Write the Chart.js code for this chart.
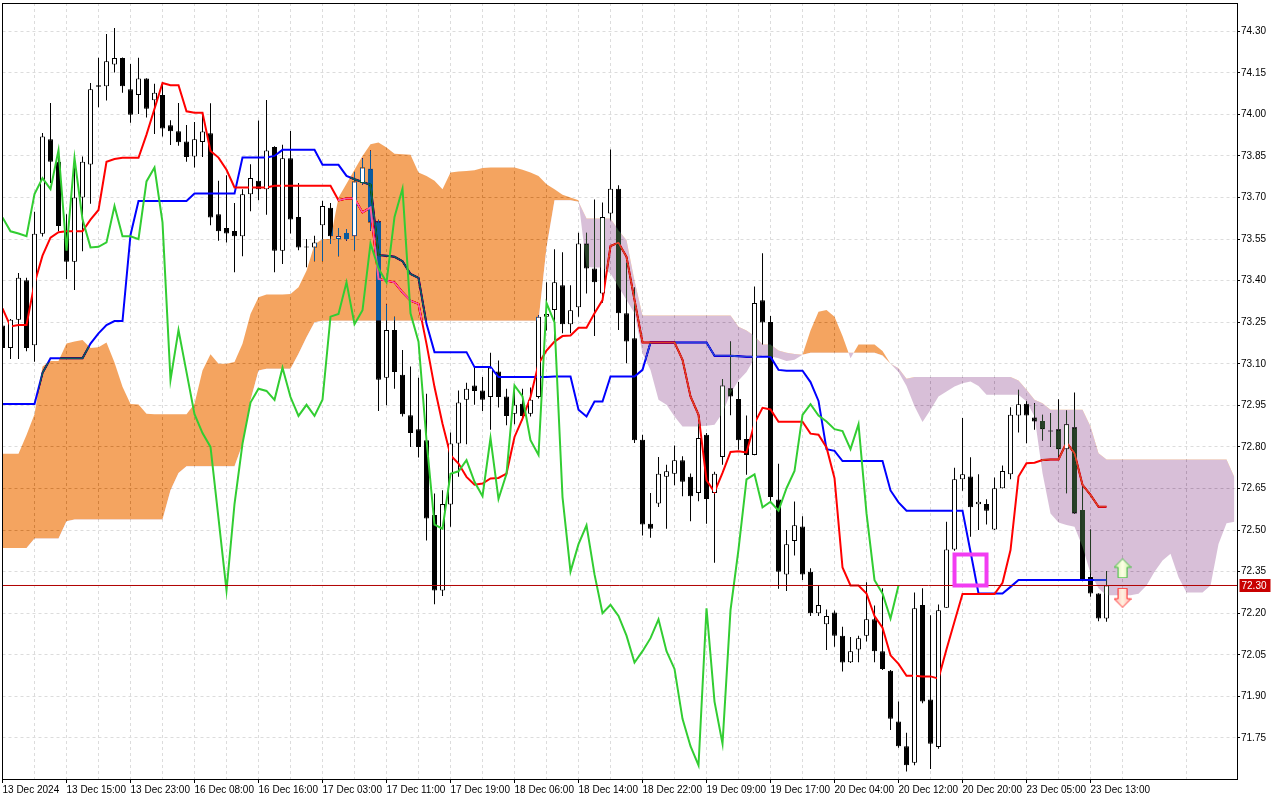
<!DOCTYPE html>
<html>
<head>
<meta charset="utf-8">
<script src="https://cdn.jsdelivr.net/npm/chart.js@4.4.1/dist/chart.umd.min.js"></script>
<style>
  html, body { margin: 0; padding: 0; background: #fff; }
  canvas { display: block; }
</style>
</head>
<body>
<canvas id="chart_ichimoku" width="1280" height="800"></canvas>
<script>
// hourly bars, 13 Dec 2024 .. 23 Dec 2024
const dateLabels = ["13 Dec 2024", "13 Dec 15:00", "13 Dec 23:00", "16 Dec 08:00", "16 Dec 16:00",
    "17 Dec 03:00", "17 Dec 11:00", "17 Dec 19:00", "18 Dec 06:00", "18 Dec 14:00", "18 Dec 22:00",
    "19 Dec 09:00", "19 Dec 17:00", "20 Dec 04:00", "20 Dec 12:00", "20 Dec 20:00", "23 Dec 05:00",
    "23 Dec 13:00"];
const priceTicks = [71.75, 71.90, 72.05, 72.20, 72.35, 72.50, 72.65, 72.80, 72.95, 73.10,
    73.25, 73.40, 73.55, 73.70, 73.85, 74.00, 74.15, 74.30];

const opens = [73.238,73.157,73.259,73.401,73.167,73.569,73.910,73.829,73.578,73.468,
    73.700,73.819,74.100,74.101,74.180,74.203,74.091,74.070,74.129,74.051,
    74.070,73.961,73.939,73.902,73.848,73.900,73.932,73.640,73.590,73.579,
    73.560,73.712,73.760,73.730,73.882,73.508,73.842,73.630,73.520,73.520,
    73.600,73.663,73.550,73.572,73.560,73.752,73.804,73.614,73.050,73.222,
    73.060,72.914,72.864,72.824,72.554,72.282,72.592,72.812,72.970,73.022,
    73.004,72.980,73.072,72.982,72.920,72.956,72.920,72.980,73.270,73.294,
    73.383,73.243,73.304,73.534,73.444,73.354,73.642,73.732,73.282,73.192,
    72.826,72.523,72.596,72.692,72.703,72.752,72.692,72.634,72.844,72.634,
    72.764,73.012,72.973,72.829,72.771,73.329,73.251,72.610,72.340,72.461,
    72.513,72.350,72.200,72.160,72.203,72.119,72.023,72.069,72.119,72.178,
    72.063,71.992,71.809,71.720,71.660,72.230,71.889,71.717,72.220,72.430,
    72.683,72.693,72.593,72.594,72.502,72.651,72.701,72.913,72.956,72.906,
    72.894,72.856,72.864,72.792,72.871,72.572,72.331,72.271,72.181];
const highs = [73.300,73.262,73.428,73.410,73.649,73.933,74.041,73.864,73.640,73.846,
    73.848,74.113,74.204,74.290,74.312,74.205,74.182,74.204,74.130,74.110,
    74.113,73.979,74.041,73.962,73.972,73.998,74.040,73.760,73.780,73.680,
    73.730,73.820,73.978,74.052,73.885,73.890,73.940,73.752,73.550,73.562,
    73.688,73.680,73.590,73.586,73.792,73.842,73.870,73.620,73.314,73.270,
    73.150,73.090,73.050,72.992,72.632,72.644,72.852,73.004,73.032,73.086,
    73.052,73.140,73.112,73.010,73.002,73.010,73.014,73.275,73.394,73.513,
    73.502,73.383,73.573,73.573,73.693,73.682,73.873,73.744,73.465,73.375,
    72.844,72.634,72.764,72.736,72.805,72.766,72.704,72.884,72.850,72.710,
    73.045,73.180,73.034,72.913,73.379,73.499,73.272,72.739,72.500,72.603,
    72.550,72.362,72.300,72.213,72.210,72.151,72.114,72.119,72.312,72.228,
    72.290,71.995,71.881,71.769,72.275,72.290,72.193,72.231,72.530,72.725,
    72.904,72.763,72.701,72.611,72.690,72.733,72.943,73.006,72.966,72.958,
    72.916,72.922,72.972,72.931,72.996,72.657,72.502,72.272,72.352];
const lows = [73.140,73.117,73.117,73.145,73.107,73.559,73.752,73.578,73.406,73.366,
    73.506,73.677,74.026,74.050,74.151,74.078,73.970,74.001,73.989,73.929,
    73.920,73.889,73.887,73.829,73.808,73.846,73.600,73.544,73.538,73.430,
    73.488,73.650,73.690,73.638,73.430,73.460,73.570,73.510,73.448,73.470,
    73.470,73.532,73.488,73.544,73.510,73.746,73.580,72.930,72.950,73.010,
    72.910,72.800,72.762,72.462,72.232,72.262,72.512,72.692,72.810,72.952,
    72.930,72.862,72.942,72.878,72.882,72.896,72.910,72.975,73.220,73.186,
    73.210,73.210,73.270,73.354,73.200,73.320,73.618,73.222,73.102,72.814,
    72.480,72.472,72.583,72.505,72.662,72.622,72.532,72.604,72.523,72.382,
    72.736,72.914,72.790,72.700,72.770,73.170,72.600,72.288,72.280,72.408,
    72.320,72.190,72.190,72.067,72.079,71.990,72.020,72.023,72.098,72.023,
    71.995,71.779,71.715,71.629,71.651,71.875,71.638,71.711,72.220,72.425,
    72.642,72.476,72.500,72.520,72.500,72.650,72.683,72.852,72.813,72.862,
    72.823,72.801,72.765,72.633,72.558,72.315,72.259,72.171,72.169];
const closes = [73.157,73.259,73.410,73.157,73.569,73.920,73.829,73.597,73.468,73.700,
    73.829,74.091,74.105,74.192,74.203,74.101,73.999,74.129,74.020,74.078,
    73.949,73.939,73.899,73.846,73.910,73.938,73.628,73.578,73.570,73.560,
    73.712,73.770,73.730,73.870,73.508,73.842,73.621,73.520,73.522,73.538,
    73.669,73.560,73.560,73.550,73.758,73.808,73.610,73.042,73.222,73.070,
    72.918,72.850,72.800,72.542,72.282,72.594,72.812,72.960,73.010,73.002,
    72.970,73.086,72.980,72.912,72.952,72.912,72.970,73.270,73.280,73.394,
    73.243,73.293,73.534,73.444,73.394,73.630,73.732,73.282,73.180,72.824,
    72.520,72.505,72.703,72.712,72.752,72.674,72.622,72.832,72.612,72.703,
    73.022,72.982,72.824,72.771,73.319,73.249,72.619,72.350,72.449,72.517,
    72.340,72.200,72.230,72.190,72.119,72.022,72.063,72.110,72.178,72.063,
    71.999,71.819,71.720,71.651,72.218,71.881,71.729,72.211,72.430,72.683,
    72.701,72.582,72.602,72.570,72.651,72.713,72.916,72.954,72.913,72.892,
    72.864,72.857,72.792,72.882,72.560,72.319,72.271,72.181,72.300];

// Tenkan-sen (red), Kijun-sen (blue)
const tenkan = [73.300,73.235,73.240,73.240,73.390,73.490,73.555,73.575,73.578,73.578,
    73.578,73.620,73.655,73.829,73.839,73.843,73.843,73.843,73.927,74.020,
    74.113,74.105,74.105,74.011,74.006,74.006,73.868,73.844,73.800,73.736,
    73.736,73.736,73.736,73.736,73.742,73.742,73.742,73.742,73.742,73.742,
    73.742,73.742,73.690,73.696,73.696,73.646,73.664,73.406,73.400,73.394,
    73.358,73.328,73.316,73.172,73.016,72.884,72.770,72.740,72.692,72.664,
    72.668,72.686,72.688,72.704,72.836,72.902,72.980,73.100,73.148,73.180,
    73.200,73.202,73.230,73.230,73.282,73.330,73.525,73.537,73.486,73.330,
    73.177,73.177,73.177,73.177,73.177,73.114,72.982,72.916,72.680,72.637,
    72.706,72.782,72.784,72.780,72.885,72.941,72.935,72.891,72.891,72.891,
    72.891,72.848,72.844,72.798,72.687,72.365,72.300,72.300,72.271,72.190,
    72.148,72.048,72.017,71.974,71.974,71.972,71.972,71.964,72.070,72.170,
    72.269,72.269,72.269,72.269,72.269,72.310,72.428,72.693,72.741,72.743,
    72.753,72.755,72.755,72.816,72.777,72.663,72.627,72.584,72.584];
const kijun = [72.955,72.955,72.955,72.955,72.955,73.067,73.120,73.120,73.120,73.120,
    73.120,73.173,73.210,73.240,73.254,73.254,73.565,73.687,73.687,73.687,
    73.687,73.687,73.687,73.687,73.714,73.714,73.714,73.714,73.714,73.714,
    73.844,73.844,73.844,73.844,73.850,73.872,73.872,73.872,73.872,73.872,
    73.818,73.818,73.818,73.778,73.766,73.756,73.746,73.492,73.490,73.486,
    73.470,73.424,73.410,73.244,73.142,73.142,73.142,73.142,73.142,73.088,
    73.088,73.088,73.052,73.052,73.052,73.052,73.052,73.052,73.052,73.054,
    73.054,73.054,72.934,72.910,72.964,72.964,73.054,73.054,73.054,73.054,
    73.078,73.177,73.177,73.177,73.177,73.177,73.177,73.177,73.177,73.129,
    73.129,73.129,73.127,73.125,73.125,73.125,73.125,73.078,73.075,73.075,
    73.075,73.034,72.966,72.792,72.786,72.749,72.749,72.749,72.749,72.749,
    72.749,72.643,72.600,72.570,72.570,72.570,72.570,72.570,72.570,72.570,
    72.570,72.422,72.271,72.271,72.271,72.271,72.295,72.320,72.320,72.320,
    72.320,72.320,72.320,72.320,72.320,72.320,72.320,72.320,72.320];

// Senkou Span A / B, already shifted 26 bars ahead
const senkouA = [72.775,72.775,72.775,72.843,72.918,73.090,73.110,73.110,73.173,73.180,
    73.186,73.157,73.160,73.177,73.105,73.017,72.955,72.953,72.920,72.918,
    72.918,72.918,72.918,72.918,72.956,73.076,73.134,73.100,73.100,73.106,
    73.172,73.280,73.340,73.350,73.350,73.350,73.352,73.376,73.436,73.530,
    73.550,73.550,73.700,73.750,73.800,73.850,73.892,73.898,73.880,73.858,
    73.856,73.854,73.790,73.778,73.760,73.730,73.790,73.794,73.796,73.798,
    73.806,73.808,73.808,73.808,73.808,73.800,73.790,73.778,73.748,73.730,
    73.710,73.700,73.690,73.450,73.447,73.447,73.426,73.378,73.330,73.282,
    73.138,73.078,72.970,72.952,72.910,72.874,72.874,72.874,72.876,72.880,
    72.922,72.994,73.040,73.070,73.120,73.130,73.127,73.120,73.110,73.115,
    73.133,73.220,73.288,73.294,73.270,73.200,73.120,73.170,73.170,73.170,
    73.146,73.100,73.070,73.020,72.947,72.890,72.934,72.982,73.000,73.018,
    73.030,73.036,73.020,72.988,72.988,72.988,72.988,72.988,72.964,72.910,
    72.705,72.560,72.527,72.518,72.512,72.440,72.343,72.290,72.265,72.265,
    72.265,72.265,72.270,72.300,72.350,72.390,72.415,72.330,72.275,72.275,
    72.275,72.300,72.450,72.525,72.530];
const senkouB = [72.435,72.435,72.435,72.435,72.470,72.470,72.470,72.470,72.532,72.538,
    72.538,72.538,72.538,72.538,72.538,72.538,72.538,72.538,72.538,72.538,
    72.538,72.644,72.706,72.730,72.730,72.730,72.730,72.730,72.730,72.730,
    72.810,72.968,73.076,73.082,73.082,73.082,73.082,73.136,73.196,73.250,
    73.255,73.255,73.255,73.255,73.255,73.255,73.255,73.255,73.255,73.255,
    73.255,73.255,73.255,73.255,73.255,73.255,73.255,73.255,73.255,73.255,
    73.255,73.255,73.255,73.255,73.255,73.255,73.255,73.255,73.520,73.690,
    73.690,73.690,73.685,73.624,73.624,73.624,73.624,73.582,73.546,73.400,
    73.274,73.274,73.274,73.274,73.274,73.274,73.274,73.274,73.274,73.274,
    73.274,73.274,73.234,73.220,73.200,73.170,73.170,73.148,73.140,73.135,
    73.133,73.140,73.140,73.140,73.140,73.140,73.140,73.140,73.140,73.140,
    73.130,73.100,73.084,73.046,73.052,73.052,73.052,73.052,73.052,73.052,
    73.052,73.052,73.052,73.052,73.052,73.052,73.052,73.040,73.006,72.970,
    72.958,72.934,72.934,72.934,72.934,72.934,72.874,72.777,72.755,72.755,
    72.755,72.755,72.755,72.755,72.755,72.755,72.755,72.755,72.755,72.755,
    72.755,72.755,72.755,72.755,72.690];

// objects on the chart: square and the two signal arrows
const boxBars = [119, 123];
const boxPrices = [72.300, 72.412];
const arrowBars = [140, 140];
const arrowPrices = [72.362, 72.256];

const chikouShift = 26;
const xMax = 154.31;
const gridEvery = 4;
const labelEvery = 8;

function points(arr) {
    return arr.map((v, i) => ({x: i, y: v}));
}

function makeArrow(up, edge, light, dark) {
    const c = document.createElement("canvas");
    c.width = 18;
    c.height = 20;
    const g = c.getContext("2d");
    const pts = up
        ? [[9, 0.5], [17.5, 9], [13.5, 9], [13.5, 19.5], [4.5, 19.5], [4.5, 9], [0.5, 9]]
        : [[9, 19.5], [17.5, 11], [13.5, 11], [13.5, 0.5], [4.5, 0.5], [4.5, 11], [0.5, 11]];
    g.beginPath();
    pts.forEach((p, i) => i ? g.lineTo(p[0], p[1]) : g.moveTo(p[0], p[1]));
    g.closePath();
    const grad = g.createLinearGradient(0, 0, 18, 0);
    grad.addColorStop(0, dark);
    grad.addColorStop(0.5, light);
    grad.addColorStop(1, dark);
    g.fillStyle = grad;
    g.fill();
    g.strokeStyle = edge;
    g.lineWidth = 1;
    g.stroke();
    return c;
}

const upArrow = makeArrow(true, "#3cbc3c", "#ffffe6", "#c6efa0");
const downArrow = makeArrow(false, "#ff2626", "#fff3e0", "#ffb4b4");

const last = closes.length - 1;
const isBull = opens.map((o, i) => closes[i] >= o);

const wickData = highs.map((h, i) => ({x: i, y: [lows[i], h]}));
const bodyData = opens.map((o, i) => ({x: i, y: [o, closes[i]]}));
const chikouData = closes.slice(chikouShift).map((c, i) => ({x: i, y: c}));
const boxData = [
    {x: boxBars[0], y: boxPrices[0]}, {x: boxBars[0], y: boxPrices[1]},
    {x: boxBars[1], y: boxPrices[1]}, {x: boxBars[1], y: boxPrices[0]},
    {x: boxBars[0], y: boxPrices[0]}, {x: boxBars[0], y: boxPrices[1]}
];

const xGrid = [];
for (let v = 0; v <= xMax; v += gridEvery) xGrid.push(v);

// the cloud is painted with "difference" over what is already drawn,
// so candles and lines under it change colour like in the terminal
const cloudBlend = {
    id: "cloudBlend",
    afterDatasetDraw(chart, args) {
        const ds = chart.data.datasets[args.index];
        if (ds.blendStart) chart.ctx.globalCompositeOperation = "difference";
        if (ds.blendEnd) chart.ctx.globalCompositeOperation = "source-over";
    },
    afterDatasetsDraw(chart) {
        chart.ctx.globalCompositeOperation = "source-over";
    }
};

const paper = {
    id: "paper",
    beforeDraw(chart) {
        const ctx = chart.ctx;
        ctx.save();
        ctx.fillStyle = "#ffffff";
        ctx.fillRect(0, 0, chart.width, chart.height);
        ctx.restore();
    },
    afterDraw(chart) {
        const ctx = chart.ctx;
        const a = chart.chartArea;
        ctx.save();
        ctx.strokeStyle = "#000";
        ctx.lineWidth = 1;
        const x0 = Math.floor(a.left) + 0.5, y0 = Math.floor(a.top) + 0.5;
        const x1 = Math.floor(a.right) + 0.5, y1 = Math.floor(a.bottom) + 0.5;
        ctx.strokeRect(x0, y0, x1 - x0, y1 - y0);
        // current price tag
        const py = Math.floor(chart.scales.y.getPixelForValue(closes[last]));
        ctx.fillStyle = "#c80000";
        ctx.fillRect(x1 + 2, py - 6, 31, 13);
        ctx.fillStyle = "#ffffff";
        ctx.font = "10px 'Liberation Sans'";
        ctx.textBaseline = "middle";
        ctx.textAlign = "left";
        ctx.fillText(closes[last].toFixed(2), x1 + 4, py + 1);
        ctx.restore();
    }
};

function noPadding(s) {
    s.paddingLeft = 0;
    s.paddingRight = 0;
    s.paddingTop = 0;
    s.paddingBottom = 0;
}

Chart.defaults.font.family = "'Liberation Sans', 'DejaVu Sans', sans-serif";
Chart.defaults.font.size = 10;
Chart.defaults.color = "#000";

const chart_ichimoku = new Chart("chart_ichimoku", {
    type: "bar",
    data: {
        datasets: [
            {
                label: "wicks", type: "bar", data: wickData,
                backgroundColor: "#000", barThickness: 1, grouped: false,
                inflateAmount: 0, order: 10
            },
            {
                label: "bodies", type: "bar", data: bodyData,
                backgroundColor: isBull.map(b => b ? "#fff" : "#000"),
                borderColor: "#000", borderWidth: 1, borderSkipped: false,
                barThickness: 5, minBarLength: 1, grouped: false,
                inflateAmount: 0, order: 9
            },
            {
                label: "Kijun-sen", type: "line", data: points(kijun),
                borderColor: "#0000ff", borderWidth: 2, pointRadius: 0, order: 8
            },
            {
                label: "Tenkan-sen", type: "line", data: points(tenkan),
                borderColor: "#ff0000", borderWidth: 2, pointRadius: 0, order: 7,
                blendStart: true
            },
            {
                label: "Senkou Span A", type: "line", data: points(senkouA),
                borderColor: "rgba(0,0,0,0)", borderWidth: 1, pointRadius: 0,
                fill: {target: "+1", above: "rgb(11,91,159)", below: "rgb(39,64,39)"},
                order: 5, blendEnd: true
            },
            {
                label: "Senkou Span B", type: "line", data: points(senkouB),
                borderColor: "rgba(0,0,0,0)", borderWidth: 1, pointRadius: 0,
                fill: false, order: 6
            },
            {
                label: "bull fill", type: "bar", data: bodyData,
                backgroundColor: isBull.map(b => b ? "#fff" : "rgba(0,0,0,0)"),
                borderColor: "rgba(0,0,0,0)", borderWidth: 1, borderSkipped: false,
                barThickness: 5, grouped: false, inflateAmount: 0, order: 4
            },
            {
                label: "Chikou Span", type: "line", data: chikouData,
                borderColor: "#32cd32", borderWidth: 2, pointRadius: 0, order: 3
            },
            {
                label: "price", type: "line",
                data: [{x: 0, y: closes[last]}, {x: xMax, y: closes[last]}],
                borderColor: "#b00000", borderWidth: 1, pointRadius: 0, order: 2
            },
            {
                label: "box", type: "line", data: boxData,
                borderColor: "#f23cf2", borderWidth: 4, borderJoinStyle: "miter",
                pointRadius: 0, order: 1
            },
            {
                label: "signals", type: "scatter",
                data: arrowBars.map((x, i) => ({x: x, y: arrowPrices[i]})),
                pointStyle: [upArrow, downArrow], pointRadius: 10, order: 0
            }
        ]
    },
    options: {
        responsive: false,
        maintainAspectRatio: false,
        devicePixelRatio: 1,
        animation: false,
        events: [],
        layout: {autoPadding: false, padding: {left: 2.5, top: 3, right: 0, bottom: 0}},
        plugins: {legend: {display: false}, tooltip: {enabled: false}},
        scales: {
            x: {
                type: "linear", min: 0, max: xMax, offset: false,
                afterBuildTicks: s => { s.ticks = xGrid.map(v => ({value: v})); },
                afterFit: s => { s.height = 21; noPadding(s); },
                ticks: {
                    autoSkip: false, maxRotation: 0, minRotation: 0, align: "start", padding: 1,
                    callback: v => (Math.round(v) % labelEvery === 0) ? dateLabels[Math.round(v) / labelEvery] : ""
                },
                grid: {
                    offset: false, color: "#dcdcdc", lineWidth: 1, tickLength: 4,
                    tickColor: c => (c.tick && Math.round(c.tick.value) % labelEvery === 0) ? "#000" : "rgba(0,0,0,0)"
                },
                border: {display: false, dash: [3, 3]}
            },
            y: {
                type: "linear", position: "right", min: 71.6018, max: 74.4018, beginAtZero: false,
                afterBuildTicks: s => { s.ticks = priceTicks.map(v => ({value: v})); },
                afterFit: s => { s.width = 43; noPadding(s); },
                ticks: {padding: 1, callback: v => Number(v).toFixed(2)},
                grid: {color: "#dcdcdc", lineWidth: 1, tickLength: 3, tickColor: "#000"},
                border: {display: false, dash: [3, 3]}
            }
        }
    },
    plugins: [cloudBlend, paper]
});
</script>
</body>
</html>
